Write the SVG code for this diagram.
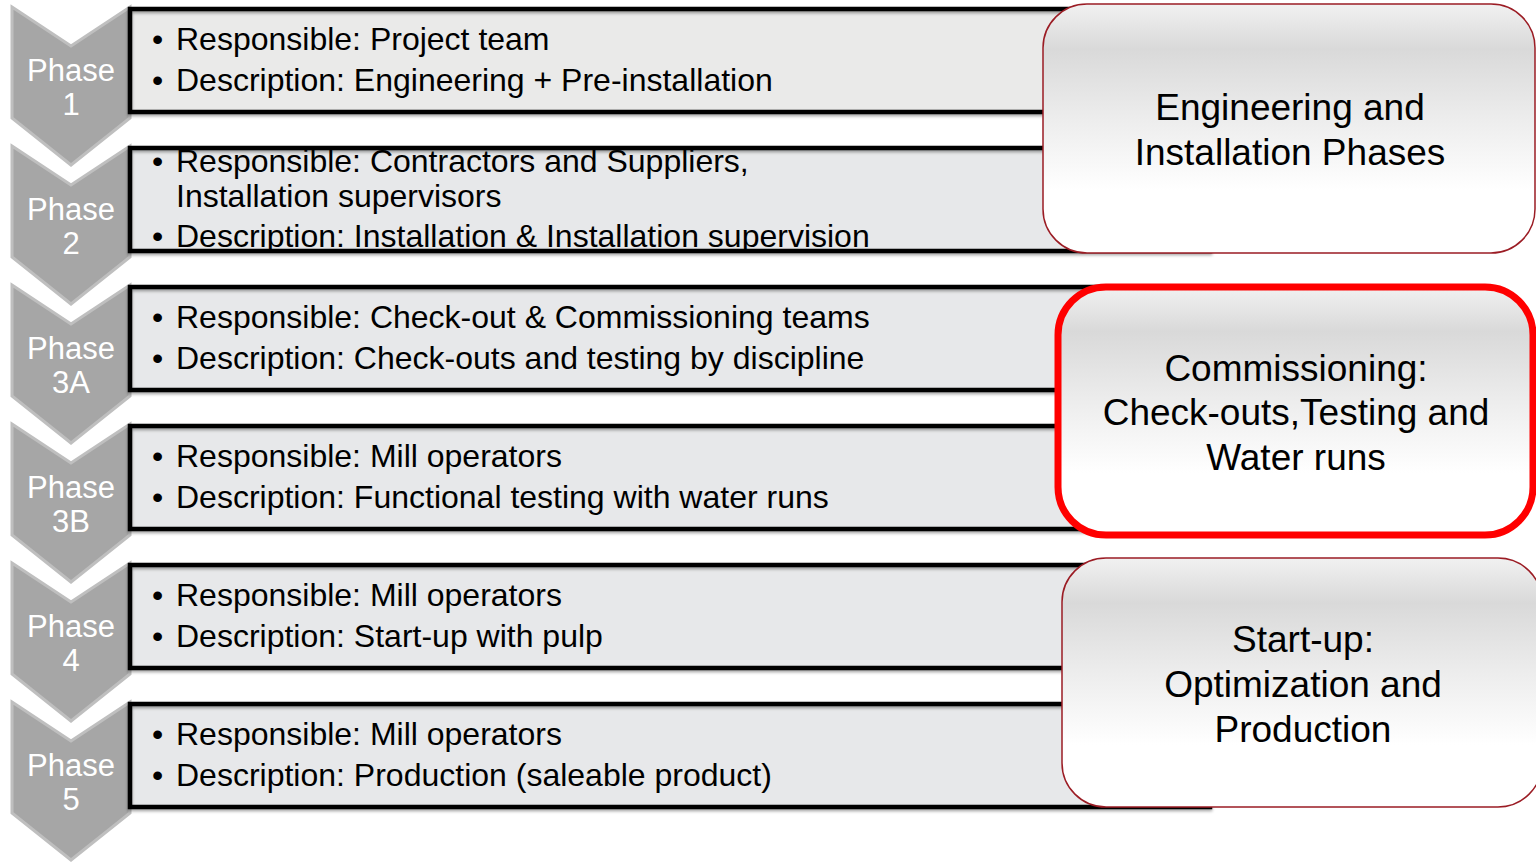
<svg xmlns="http://www.w3.org/2000/svg" width="1536" height="864" viewBox="0 0 1536 864">
<defs>
<linearGradient id="g" x1="0" y1="0" x2="0" y2="1">
<stop offset="0" stop-color="#f1f1f1"/>
<stop offset="0.18" stop-color="#d9d9d9"/>
<stop offset="0.45" stop-color="#ececec"/>
<stop offset="0.75" stop-color="#ffffff"/>
<stop offset="1" stop-color="#ffffff"/>
</linearGradient>
<clipPath id="c2"><rect x="132" y="150" width="1080" height="100"/></clipPath>
<filter id="sh" x="-5%" y="-10%" width="110%" height="130%"><feDropShadow dx="0" dy="2" stdDeviation="1.5" flood-color="#000" flood-opacity="0.35"/></filter>
</defs>
<style>
.chev{fill:#a6a6a6;stroke:#bfbfbf;stroke-width:3;stroke-linejoin:miter}
.pl{font-family:"Liberation Sans",Arial,sans-serif;font-size:31px;fill:#ffffff;text-anchor:middle}
.box{fill:#e7e8ea}
.bst{fill:none;stroke:#000;stroke-width:4.5}
.bt{font-family:"Liberation Sans",Arial,sans-serif;font-size:32px;fill:#000}
.rr{fill:url(#g);stroke:#9b1c24;stroke-width:1.5}
.rred{fill:url(#g);stroke:#ff0000;stroke-width:7}
.rt{font-family:"Liberation Sans",Arial,sans-serif;font-size:37px;fill:#000;text-anchor:middle}
</style>
<rect width="1536" height="864" fill="#fff"/>

<g id="phase1">
<path class="chev" d="M12 7 L71 46 L130 7 L130 118 L71 165 L12 118 Z"/>
<text class="pl" x="71" y="81">Phase</text><text class="pl" x="71" y="115">1</text>
<rect class="box" x="130" y="9" width="1080" height="103" fill="#eaeae9" style="fill:#eaeae9"/>
<rect class="bst" x="130" y="9" width="1080" height="103" filter="url(#sh)"/>
<text class="bt" x="152" y="50">•</text><text class="bt" x="176" y="50">Responsible: Project team</text>
<text class="bt" x="152" y="91">•</text><text class="bt" x="176" y="91">Description: Engineering + Pre-installation</text>
</g>

<g id="phase2">
<path class="chev" d="M12 146 L71 185 L130 146 L130 257 L71 304 L12 257 Z"/>
<text class="pl" x="71" y="220">Phase</text><text class="pl" x="71" y="254">2</text>
<rect class="box" x="130" y="148" width="1080" height="103"/>
<g clip-path="url(#c2)">
<text class="bt" x="152" y="172">•</text><text class="bt" x="176" y="172">Responsible: Contractors and Suppliers,</text>
<text class="bt" x="176" y="207">Installation supervisors</text>
<text class="bt" x="152" y="247">•</text><text class="bt" x="176" y="247">Description: Installation &amp; Installation supervision</text>
</g>
<rect class="bst" x="130" y="148" width="1080" height="103" filter="url(#sh)"/>
</g>

<g id="phase3a">
<path class="chev" d="M12 285 L71 324 L130 285 L130 396 L71 443 L12 396 Z"/>
<text class="pl" x="71" y="359">Phase</text><text class="pl" x="71" y="393">3A</text>
<rect class="box" x="130" y="287" width="1080" height="103"/>
<rect class="bst" x="130" y="287" width="1080" height="103" filter="url(#sh)"/>
<text class="bt" x="152" y="328">•</text><text class="bt" x="176" y="328">Responsible: Check-out &amp; Commissioning teams</text>
<text class="bt" x="152" y="369">•</text><text class="bt" x="176" y="369">Description: Check-outs and testing by discipline</text>
</g>

<g id="phase3b">
<path class="chev" d="M12 424 L71 463 L130 424 L130 535 L71 582 L12 535 Z"/>
<text class="pl" x="71" y="498">Phase</text><text class="pl" x="71" y="532">3B</text>
<rect class="box" x="130" y="426" width="1080" height="103"/>
<rect class="bst" x="130" y="426" width="1080" height="103" filter="url(#sh)"/>
<text class="bt" x="152" y="467">•</text><text class="bt" x="176" y="467">Responsible: Mill operators</text>
<text class="bt" x="152" y="508">•</text><text class="bt" x="176" y="508">Description: Functional testing with water runs</text>
</g>

<g id="phase4">
<path class="chev" d="M12 563 L71 602 L130 563 L130 674 L71 721 L12 674 Z"/>
<text class="pl" x="71" y="637">Phase</text><text class="pl" x="71" y="671">4</text>
<rect class="box" x="130" y="565" width="1080" height="103"/>
<rect class="bst" x="130" y="565" width="1080" height="103" filter="url(#sh)"/>
<text class="bt" x="152" y="606">•</text><text class="bt" x="176" y="606">Responsible: Mill operators</text>
<text class="bt" x="152" y="647">•</text><text class="bt" x="176" y="647">Description: Start-up with pulp</text>
</g>

<g id="phase5">
<path class="chev" d="M12 702 L71 741 L130 702 L130 813 L71 860 L12 813 Z"/>
<text class="pl" x="71" y="776">Phase</text><text class="pl" x="71" y="810">5</text>
<rect class="box" x="130" y="704" width="1080" height="103"/>
<rect class="bst" x="130" y="704" width="1080" height="103" filter="url(#sh)"/>
<text class="bt" x="152" y="745">•</text><text class="bt" x="176" y="745">Responsible: Mill operators</text>
<text class="bt" x="152" y="786">•</text><text class="bt" x="176" y="786">Description: Production (saleable product)</text>
</g>

<g id="group-engineering">
<rect class="rr" x="1043" y="4" width="492" height="249" rx="44" ry="44"/>
<text class="rt" x="1290" y="120">Engineering and</text>
<text class="rt" x="1290" y="165">Installation Phases</text>
</g>

<g id="group-commissioning">
<rect class="rred" x="1058" y="287" width="475" height="248" rx="48" ry="48"/>
<text class="rt" x="1296" y="381">Commissioning:</text>
<text class="rt" x="1296" y="425">Check-outs,Testing and</text>
<text class="rt" x="1296" y="470">Water runs</text>
</g>

<g id="group-startup">
<rect class="rr" x="1062" y="558" width="480" height="249" rx="44" ry="44"/>
<text class="rt" x="1303" y="652">Start-up:</text>
<text class="rt" x="1303" y="697">Optimization and</text>
<text class="rt" x="1303" y="742">Production</text>
</g>

<g id="connectors"></g>
</svg>
